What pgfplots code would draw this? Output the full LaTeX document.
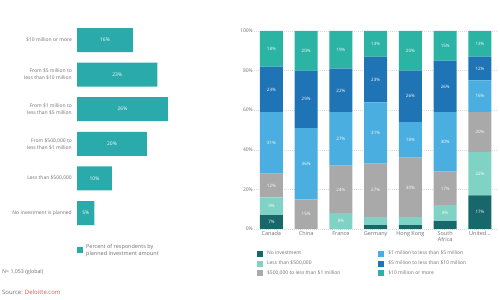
\documentclass[border=0pt]{standalone}
\usepackage{pgfplots}
\pgfplotsset{compat=1.18}
\usepackage{pgfplotstable}
\usepackage{fontspec}
\setmainfont{Open Sans}
\definecolor{tealbar}{HTML}{2AAAAA}
\definecolor{cNone}{HTML}{17676B}
\definecolor{cLess}{HTML}{80D3C4}
\definecolor{cMid}{HTML}{A9A9A9}
\definecolor{cOne}{HTML}{4AAEE0}
\definecolor{cFive}{HTML}{1F74B6}
\definecolor{cTen}{HTML}{2BB3A4}
\definecolor{txt}{HTML}{6E6E6E}
\definecolor{linkc}{HTML}{D9534F}

\pgfplotstableread{
idx none less mid one five ten
0 7 9 12 31 23 18
1 0 0 15 36 29 20
2 0 8 24 27 22 19
3 2 4 27 31 23 13
4 2 4 30 18 26 20
5 4 8 17 30 26 15
6 17 22 20 16 12 13
}\countries

\pgfplotstableread{
cat v
1 16
2 23
3 26
4 20
5 10
6 5
}\globaldata

\pgfplotsset{
  lbl/.style={only marks, mark=none, point meta=explicit symbolic,
    nodes near coords={\ifnum\pgfplotspointmeta<5 \else\pgfplotspointmeta\%\fi},
    every node near coord/.style={anchor=center, inner sep=0pt, text=white,
      font=\fontsize{4.5}{5}\selectfont}},
  sq/.style={legend image code/.code={\fill[##1] (0bp,-3bp) rectangle (6bp,3bp);}},
}

\begin{document}
\begin{tikzpicture}
\useasboundingbox (0,0) rectangle (500bp,300bp);

% ---------- left chart ----------
\begin{axis}[
  at={(77bp,69.7bp)}, anchor=south west, width=105bp, height=207.6bp, scale only axis,
  xmin=0, xmax=30, ymin=0.5, ymax=6.5, y dir=reverse,
  axis line style={draw=none}, tick style={draw=none},
  xtick=\empty, ytick={1,2,3,4,5,6},
  yticklabels={{\$10 million or more},{From \$5 million to\\less than \$10 million},{From \$1 million to\\less than \$5 million},{From \$500,000 to\\less than \$1 million},{Less than \$500,000},{No investment is planned}},
  yticklabel style={align=right, inner sep=0pt, xshift=-5bp, text=txt, font=\fontsize{5}{7}\selectfont},
  legend style={at={(0,-0.055)}, anchor=north west, draw=none, fill=none, inner sep=0pt,
    cells={align=left}, font=\fontsize{5.5}{7}\selectfont, text=txt,
    /tikz/every odd column/.append style={column sep=1bp}},
  legend cell align=left,
]
\addplot[xbar, bar width=24bp, fill=tealbar, draw=none, sq] table[x=v, y=cat] {\globaldata};
\addlegendentry{Percent of respondents by\\planned investment amount}
\addplot[lbl, every node near coord/.append style={font=\fontsize{5}{6}\selectfont}] table[x expr=\thisrow{v}/2, y=cat, meta=v] {\globaldata};
\end{axis}

% ---------- right chart ----------
\begin{axis}[
  at={(254bp,71bp)}, anchor=south west, width=243.3bp, height=198bp, scale only axis,
  ybar stacked, bar width=23bp,
  xmin=-0.5, xmax=6.5, ymin=0, ymax=100,
  axis line style={draw=none}, tick style={draw=none},
  ymajorgrids, grid style={gray!30, dash pattern=on 1bp off 1bp},
  ytick={0,20,40,60,80,100}, yticklabel={\pgfmathprintnumber{\tick}\%},
  /pgf/number format/assume math mode=true,
  yticklabel style={inner sep=1bp, text=txt, font=\fontsize{5}{6}\selectfont},
  xtick={0,1,2,3,4,5,6},
  xticklabels={Canada,China,France,Germany,Hong Kong,{South\\Africa},{United\ldots}},
  xticklabel style={align=center, inner sep=1bp, yshift=-1bp, text=txt, font=\fontsize{5.5}{6}\selectfont},
  legend style={at={(0.012,-0.101)}, anchor=north west, draw=none, fill=none, inner sep=0pt,
    font=\fontsize{5}{6}\selectfont, text=txt, row sep=0.5bp,
    /tikz/every odd column/.append style={column sep=2bp},
    /tikz/every even column/.append style={column sep=36bp}},
  legend columns=3, transpose legend, legend cell align=left,
]
\addplot[fill=cNone, draw=none, sq] table[x=idx, y=none] {\countries};
\addlegendentry{No investment}
\addplot[fill=cLess, draw=none, sq] table[x=idx, y=less] {\countries};
\addlegendentry{Less than \$500,000}
\addplot[fill=cMid, draw=none, sq] table[x=idx, y=mid] {\countries};
\addlegendentry{\$500,000 to less than \$1 million}
\addplot[fill=cOne, draw=none, sq] table[x=idx, y=one] {\countries};
\addlegendentry{\$1 million to less than \$5 million}
\addplot[fill=cFive, draw=none, sq] table[x=idx, y=five] {\countries};
\addlegendentry{\$5 million to less than \$10 million}
\addplot[fill=cTen, draw=none, sq] table[x=idx, y=ten] {\countries};
\addlegendentry{\$10 million or more}
\end{axis}

\begin{axis}[
  at={(254bp,71bp)}, anchor=south west, width=243.3bp, height=198bp, scale only axis,
  xmin=-0.5, xmax=6.5, ymin=0, ymax=100, hide axis,
]
\addplot[lbl] table[x=idx, y expr=\thisrow{none}/2, meta=none] {\countries};
\addplot[lbl] table[x=idx, y expr=\thisrow{none}+\thisrow{less}/2, meta=less] {\countries};
\addplot[lbl] table[x=idx, y expr=\thisrow{none}+\thisrow{less}+\thisrow{mid}/2, meta=mid] {\countries};
\addplot[lbl] table[x=idx, y expr=\thisrow{none}+\thisrow{less}+\thisrow{mid}+\thisrow{one}/2, meta=one] {\countries};
\addplot[lbl] table[x=idx, y expr=\thisrow{none}+\thisrow{less}+\thisrow{mid}+\thisrow{one}+\thisrow{five}/2, meta=five] {\countries};
\addplot[lbl] table[x=idx, y expr=\thisrow{none}+\thisrow{less}+\thisrow{mid}+\thisrow{one}+\thisrow{five}+\thisrow{ten}/2, meta=ten] {\countries};
\end{axis}

\node[anchor=west, inner sep=0pt, text=txt, font=\fontsize{5.3}{6}\selectfont] at (2bp,28bp) {N= 1,053 (global)};
\node[anchor=west, inner sep=0pt, text=txt, font=\fontsize{6}{7}\selectfont] at (2bp,8bp) {Source: \textcolor{linkc}{Deloitte.com}};
\end{tikzpicture}
\end{document}
